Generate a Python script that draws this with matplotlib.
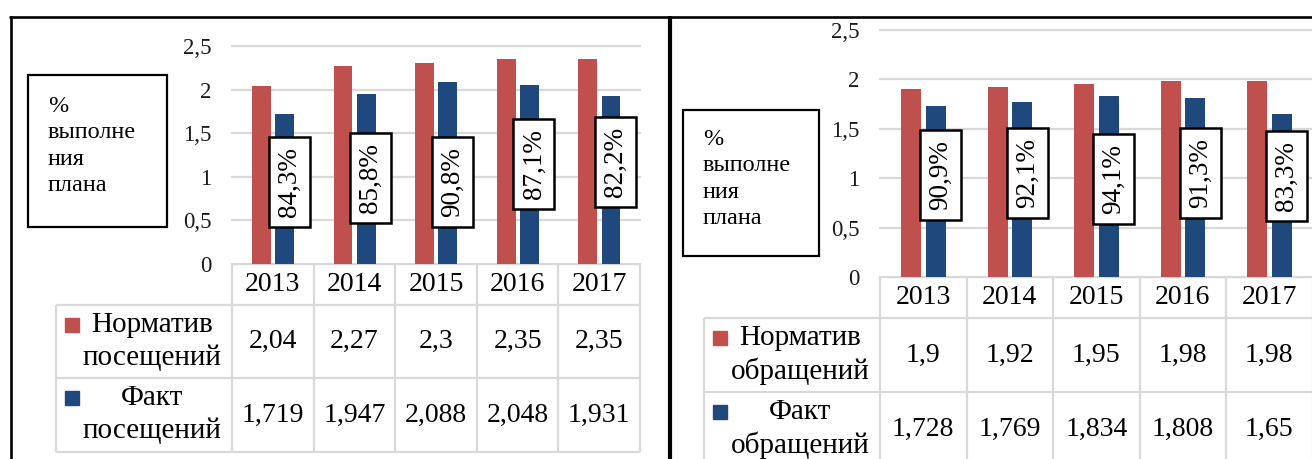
import matplotlib.pyplot as plt
from matplotlib.patches import Rectangle

plt.rcParams['font.family'] = ['Liberation Serif', 'DejaVu Serif']

years = ['2013', '2014', '2015', '2016', '2017']
series_left = ['Норматив\nпосещений', 'Факт\nпосещений']
norm_visits = [2.04, 2.27, 2.3, 2.35, 2.35]
fact_visits = [1.719, 1.947, 2.088, 2.048, 1.931]
pct_visits = [84.3, 85.8, 90.8, 87.1, 82.2]
series_right = ['Норматив\nобращений', 'Факт\nобращений']
norm_calls = [1.9, 1.92, 1.95, 1.98, 1.98]
fact_calls = [1.728, 1.769, 1.834, 1.808, 1.65]
pct_calls = [90.9, 92.1, 94.1, 91.3, 83.3]
box_text = '%\nвыполне\nния\nплана'
yticks = [0, 0.5, 1, 1.5, 2, 2.5]

RED = '#C0504D'
BLUE = '#1F497D'
GRID = '#D9D9D9'
W, H = 1312, 459

# layout of each panel in pixels (label positions of the % boxes too)
left_lay = dict(lab_x=56, ax_x0=232, ax_x1=640, y_top=46, y0=264, hdr=305, r1=378, r2=452,
                box=(28, 75, 167, 227), txt_dy=21, lbl_y=[0.94, 0.99, 0.94, 1.15, 1.175])
right_lay = dict(lab_x=704, ax_x0=880, ax_x1=1312.5, y_top=30, y0=277, hdr=318, r1=392, r2=466,
                 box=(683, 110, 819, 256), txt_dy=19, lbl_y=[1.03, 1.05, 0.99, 1.05, 1.02])


def fmt(v):
    return ('%g' % v).replace('.', ',')


fig = plt.figure(figsize=(W / 100, H / 100), dpi=100)
bg = fig.add_axes([0, 0, 1, 1])
bg.set_xlim(0, W)
bg.set_ylim(H, 0)
bg.axis('off')


def panel(lay, norm, fact, pct, names):
    x0, x1, yt, y0 = lay['ax_x0'], lay['ax_x1'], lay['y_top'], lay['y0']
    ax = fig.add_axes([x0 / W, 1 - y0 / H, (x1 - x0) / W, (y0 - yt) / H])
    idx = range(len(years))
    ax.bar([i - 0.14 for i in idx], norm, width=0.23, color=RED, zorder=2)
    ax.bar([i + 0.145 for i in idx], fact, width=0.23, color=BLUE, zorder=2)
    ax.set_xlim(-0.5, 4.5)
    ax.set_ylim(0, 2.5)
    ax.set_yticks(yticks)
    ax.set_yticklabels([fmt(t) for t in yticks], fontsize=16.5, color='#1a1a1a')
    ax.set_xticks([])
    ax.tick_params(axis='y', length=0, pad=15)
    for s in ax.spines.values():
        s.set_visible(False)
    ax.grid(axis='y', color=GRID, lw=1.6)
    ax.set_axisbelow(True)
    for gl in ax.get_ygridlines():
        gl.set_clip_on(False)

    cw = (x1 - x0) / len(years)
    bw = 41 / cw                      # label box size in data units
    bh = 90 / ((y0 - yt) / 2.5)
    for i, p in enumerate(pct):
        yc = lay['lbl_y'][i]
        ax.add_patch(Rectangle((i + 0.2 - bw / 2, yc - bh / 2), bw, bh, fc='white',
                               ec='black', lw=1.8, zorder=4))
        ax.text(i + 0.2, yc, ('%.1f%%' % p).replace('.', ','), rotation=90,
                ha='center', va='center', fontsize=19.5, zorder=5)

    # data table
    lx = lay['lab_x']
    hdr, r1, r2 = lay['hdr'], lay['r1'], lay['r2']
    kw = dict(color=GRID, lw=1.6, solid_capstyle='butt')
    bg.plot([x0, x1], [y0, y0], **kw)
    for y in (hdr, r1, r2):
        bg.plot([lx, x1], [y, y], **kw)
    bg.plot([lx, lx], [hdr, r2], **kw)
    for k in range(len(years) + 1):
        bg.plot([x0 + k * cw, x0 + k * cw], [y0, r2], **kw)
    for k, yr in enumerate(years):
        cx = x0 + (k + 0.5) * cw
        bg.text(cx, (y0 + hdr) / 2, yr, ha='center', va='center', fontsize=20)
        bg.text(cx, (hdr + r1) / 2, fmt(norm[k]), ha='center', va='center', fontsize=20)
        bg.text(cx, (r1 + r2) / 2, fmt(fact[k]), ha='center', va='center', fontsize=20)
    for top, name, col in ((hdr, names[0], RED), (r1, names[1], BLUE)):
        bg.add_patch(Rectangle((lx + 9, top + 13), 14, 14, color=col))
        l1, l2 = name.split('\n')
        bg.text(lx + 96, top + 20, l1, ha='center', va='center', fontsize=21)
        bg.text(lx + 96, top + 53, l2, ha='center', va='center', fontsize=21)

    # text box
    bx0, by0, bx1, by1 = lay['box']
    bg.add_patch(Rectangle((bx0, by0), bx1 - bx0, by1 - by0, fill=False, ec='black', lw=1.6))
    bg.text(bx0 + 20, by0 + lay['txt_dy'], box_text, ha='left', va='top', fontsize=17.5,
            linespacing=1.34)


panel(left_lay, norm_visits, fact_visits, pct_visits, series_left)
panel(right_lay, norm_calls, fact_calls, pct_calls, series_right)

# black frame lines
bg.plot([9, W], [17, 17], color='black', lw=1.9, solid_capstyle='butt')
bg.plot([11, 11], [16, H], color='black', lw=1.9, solid_capstyle='butt')
bg.plot([670, 670], [16, H], color='black', lw=3, solid_capstyle='butt')

fig.savefig('out.png', dpi=100)
